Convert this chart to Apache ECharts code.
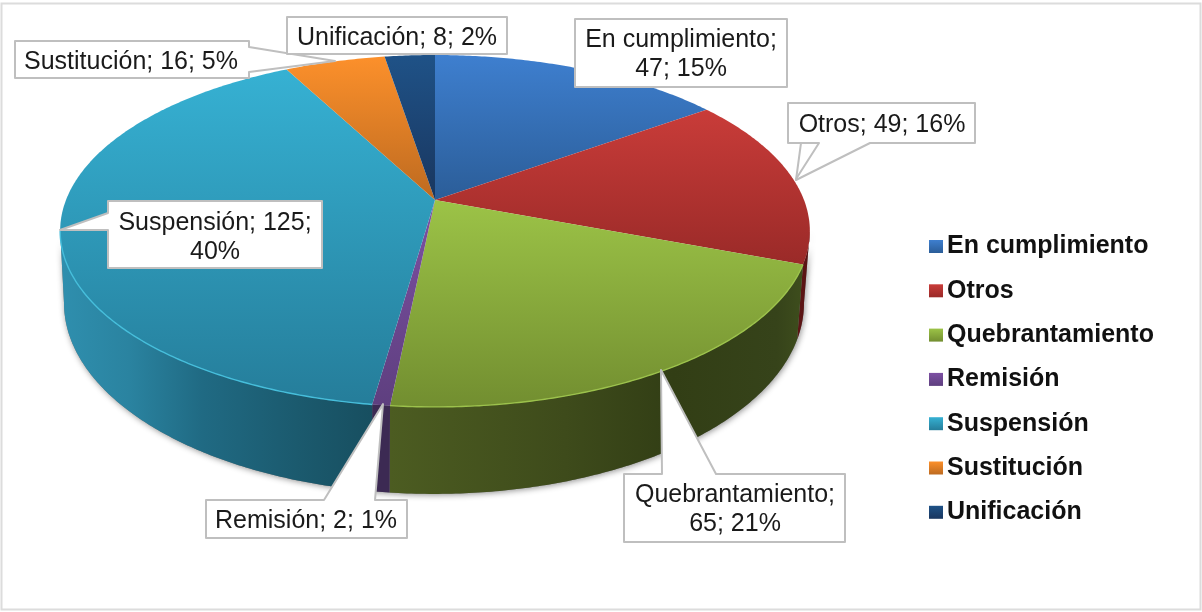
<!DOCTYPE html>
<html>
<head>
<meta charset="utf-8">
<script src="https://cdn.jsdelivr.net/npm/echarts@6/dist/echarts.min.js"></script>
<style>html,body{margin:0;padding:0;background:#fff}#c{width:1202px;height:612px}</style>
</head>
<body>
<div id="c"></div>
<script>
// --- data ---
var categories = ['En cumplimiento','Otros','Quebrantamiento','Remisión','Suspensión','Sustitución','Unificación'];
var counts     = [47,49,65,2,125,16,8];
var percents   = [15,16,21,1,40,5,2];

// --- styles ---
var topTone  = ['#3e7fcf','#c93c39','#9cc347','#7d50a3','#36b1d3','#fc902b','#1f5287'];
var lowTone  = ['#2b5d98','#9a2a28','#728e30','#5e3f7f','#257d9a','#bd6a20','#19365f'];
var rimTone  = [null,null,'#9cc24c',null,'#46bedb',null,null];
var wallStops = [
  [[0,'#2b5d98'],[1,'#2b5d98']],
  [[0,'#6b1a1a'],[1,'#5a1414']],
  [[0,'#4c5c21'],[0.42,'#3e4b1b'],[0.68,'#323e15'],[0.93,'#36431a'],[1,'#3f4f1d']],
  [[0,'#3c2a53'],[1,'#3c2a53']],
  [[0,'#2f8fae'],[0.22,'#2a83a0'],[0.45,'#206a83'],[0.75,'#1b5a6e'],[1,'#174e5f']],
  [[0,'#bd6a20'],[1,'#bd6a20']],
  [[0,'#19365f'],[1,'#19365f']]
];
var wallSpan = [[435,800],[700,812],[390,806],[370,395],[60,376],[280,390],[380,440]];

// --- projection of the tilted disc ---
var px = 435, py = 200, sx = 369, sy = 170.5, persp = 0.176;
var rimCy = 231, baseCx = 434, baseCy = 303, baseSx = 0.987, baseSy = 191 / 176;
var frontStart = Math.acos(-persp), frontEnd = Math.PI * 2 - frontStart;

function rimPoint(a) {
  var X = Math.sin(a), Y = -Math.cos(a), w = 1 - persp * Y;
  return [px + sx * X / w, py + sy * Y / w];
}
function basePoint(a) {
  var p = rimPoint(a);
  return [baseCx + (p[0] - px) * baseSx, baseCy + (p[1] - rimCy) * baseSy];
}
function arcPoints(fn, a0, a1) {
  var n = Math.max(2, Math.ceil((a1 - a0) / 0.01)), out = [];
  for (var i = 0; i <= n; i++) out.push(fn(a0 + (a1 - a0) * i / n));
  return out;
}
var total = counts.reduce(function (s, v) { return s + v; }, 0);

function makeRender(idx) {
  return function (params, api) {
    var before = 0;
    for (var i = 0; i < idx; i++) before += counts[i];
    var a0 = before / total * Math.PI * 2;
    var a1 = a0 + api.value(0) / total * Math.PI * 2;
    var rim = arcPoints(rimPoint, a0, a1);
    var topFill = {
      type: 'linear', x: 0, y: 0, x2: 0, y2: 1,
      colorStops: [{ offset: 0, color: topTone[idx] }, { offset: 1, color: lowTone[idx] }]
    };
    var children = [];
    var f0 = Math.max(a0, frontStart), f1 = Math.min(a1, frontEnd);
    if (f1 > f0) {
      var frontRim = arcPoints(rimPoint, f0, f1);
      var wall = frontRim.concat(arcPoints(basePoint, f0, f1).reverse());
      var span = wallSpan[idx];
      var wallFill = {
        type: 'linear', x: span[0], y: 0, x2: span[1], y2: 0, global: true,
        colorStops: wallStops[idx].map(function (s) { return { offset: s[0], color: s[1] }; })
      };
      children.push({ type: 'polygon', z2: 1, shape: { points: wall },
        style: { fill: '#777', shadowBlur: 6, shadowColor: 'rgba(0,0,0,0.45)', shadowOffsetX: 1, shadowOffsetY: 1 } });
      children.push({ type: 'polygon', z2: 2, shape: { points: wall }, style: { fill: wallFill, stroke: null } });
      if (rimTone[idx]) children.push({ type: 'polyline', z2: 4, shape: { points: frontRim },
        style: { fill: null, stroke: rimTone[idx], lineWidth: 1.4 } });
    }
    children.push({ type: 'polygon', z2: 3, shape: { points: [[px, py]].concat(rim) },
      style: { fill: topFill, stroke: null } });
    return { type: 'group', children: children };
  };
}

// --- callouts: outline, text centre, extra strokes ---
function labelText(i) { return categories[i] + '; ' + counts[i] + '; ' + percents[i] + '%'; }
var callouts = [
  { text: labelText(5), c: [131, 62],
    outline: [[15,41],[249,41],[249,47],[335,61],[249,72],[249,78],[15,78]] },
  { text: labelText(6), c: [397, 38],
    outline: [[287,17],[507,17],[507,54],[287,54]] },
  { text: 'En cumplimiento;\n47; 15%', c: [681, 55],
    outline: [[575,19],[787,19],[787,87],[575,87]] },
  { text: labelText(1), c: [882, 125],
    outline: [[788,103],[975,103],[975,143],[870,143],[796,180],[801,143],[788,143]],
    extra: [[801,143],[819,143],[796,179]] },
  { text: 'Suspensión; 125;\n40%', c: [215, 238],
    outline: [[108,201],[322,201],[322,268],[108,268],[108,230],[60,230],[108,213]] },
  { text: labelText(3), c: [306, 521],
    outline: [[206,500],[324,500],[383,404],[375,500],[407,500],[407,538],[206,538]] },
  { text: 'Quebrantamiento;\n65; 21%', c: [735, 510],
    outline: [[624,474],[662,474],[661,370],[716,474],[845,474],[845,542],[624,542]] }
];

var graphics = [{
  type: 'rect', z: 1, silent: true,
  shape: { x: 1.5, y: 3.5, width: 1199, height: 606 },
  style: { fill: null, stroke: '#dcdcdc', lineWidth: 2 }
}];
callouts.forEach(function (co, k) {
  graphics.push({ type: 'polygon', z: 10 + k, silent: true, shape: { points: co.outline },
    style: { fill: '#fff', stroke: '#bfbfbf', lineWidth: 2, lineJoin: 'round' } });
  if (co.extra) graphics.push({ type: 'polyline', z: 10 + k, silent: true, shape: { points: co.extra },
    style: { fill: null, stroke: '#bfbfbf', lineWidth: 2, lineJoin: 'round' } });
  graphics.push({ type: 'text', z: 30 + k, silent: true, x: co.c[0], y: co.c[1],
    style: { text: co.text, align: 'center', verticalAlign: 'middle', fill: '#1a1a1a',
      font: '25px "Liberation Sans", Arial, sans-serif', lineHeight: 29 } });
});

var chart = echarts.init(document.getElementById('c'), null, { renderer: 'canvas' });
chart.setOption({
  animation: false,
  backgroundColor: '#fff',
  color: topTone,
  legend: {
    orient: 'vertical',
    left: 924, top: 229,
    itemWidth: 14, itemHeight: 13, itemGap: 19.3,
    selectedMode: false,
    textStyle: { fontFamily: '"Liberation Sans", Arial, sans-serif', fontWeight: 'bold', fontSize: 25,
      color: '#111', padding: [0, 0, 0, -1], lineHeight: 24.3 },
    data: categories.map(function (name, i) {
      return { name: name, icon: 'rect', itemStyle: {
        color: { type: 'linear', x: 0, y: 0, x2: 0, y2: 1,
          colorStops: [{ offset: 0, color: topTone[i] }, { offset: 1, color: lowTone[i] }] } } };
    })
  },
  graphic: graphics,
  series: categories.map(function (name, i) {
    return {
      type: 'custom', name: name, coordinateSystem: 'none', silent: true,
      clip: false,
      renderItem: makeRender(i),
      data: [[counts[i]]]
    };
  })
});
</script>
</body>
</html>
